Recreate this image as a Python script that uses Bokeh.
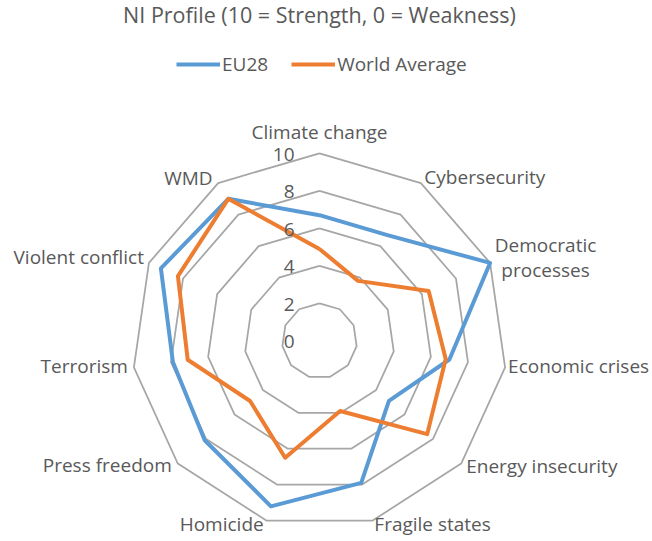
import math
from bokeh.plotting import figure
from bokeh.models import Range1d, Legend, LegendItem, Label
from bokeh.core.properties import value
from bokeh.embed import file_html
from bokeh.resources import INLINE

# ---------------- data ----------------
categories = ["Climate change", "Cybersecurity", "Democratic\nprocesses", "Economic crises",
              "Energy insecurity", "Fragile states", "Homicide", "Press freedom",
              "Terrorism", "Violent conflict", "WMD"]
eu28 = [6.7, 6.7, 10.0, 7.0, 4.9, 7.9, 9.2, 8.1, 7.9, 9.3, 9.0]
world_average = [4.9, 3.8, 6.4, 6.8, 7.6, 3.9, 6.5, 4.9, 7.1, 8.3, 9.0]
ring_values = [2, 4, 6, 8, 10]
tick_values = [0, 2, 4, 6, 8, 10]
tick_labels = ["0", "2", "4", "6", "8", "10"]
series_names = ["EU28", "World Average"]
title_text = "NI Profile (10 = Strength, 0 = Weakness)"

# ---------------- layout / style ----------------
W, H = 652, 541
PX = 18.75             # pixels per unit
CX, CY = 319.0, 340.3  # radar centre inside figure (px from top-left)
FONT = "Open Sans"
TXT = "#595959"
GRID = "#A6A6A6"
BLUE = "#5B9BD5"
ORANGE = "#ED7D31"

# label placement relative to outer vertex: (dx px, dy px down, align)
label_layout = [(0, -21, "center"), (3.5, -6, "left"), (55.5, -5.5, "center"),
                (3, -1.5, "left"), (5, 2.5, "left"), (2, 3.5, "left"),
                (-3, 3.5, "right"), (-6, 1.5, "right"), (-6, -1.5, "right"),
                (-5, -5.5, "right"), (-5.5, -5.5, "right")]

n = len(categories)
angles = [2 * math.pi * i / n for i in range(n)]


def to_xy(vals):
    xs = [v * math.sin(a) for v, a in zip(vals, angles)]
    ys = [v * math.cos(a) for v, a in zip(vals, angles)]
    return xs + xs[:1], ys + ys[:1]


p = figure(width=W, height=H, output_backend="svg", toolbar_location=None,
           x_range=Range1d(-CX / PX, (W - CX) / PX),
           y_range=Range1d(-(H - CY) / PX, CY / PX),
           x_axis_location=None, y_axis_location=None,
           min_border=0, outline_line_color=None, background_fill_color="white")
p.xgrid.visible = False
p.ygrid.visible = False

# rings
ring_xs, ring_ys = [], []
for r in ring_values:
    xs, ys = to_xy([r] * n)
    ring_xs.append(xs)
    ring_ys.append(ys)
p.multi_line(ring_xs, ring_ys, line_color=GRID, line_width=1.75)

# series
bx, by = to_xy(eu28)
ox, oy = to_xy(world_average)
r_eu = p.line(bx, by, line_color=BLUE, line_width=4, line_join="round")
r_wa = p.line(ox, oy, line_color=ORANGE, line_width=4, line_join="round")

# tick labels on the top spoke
p.text(x=[0] * len(tick_values), y=tick_values, text=tick_labels,
       x_offset=-25, y_offset=1, text_align="right", text_baseline="middle",
       text_font=value(FONT), text_font_size="19px", text_color=TXT)

# category labels
for i, cat in enumerate(categories):
    dx, dy, al = label_layout[i]
    vx = ring_values[-1] * math.sin(angles[i])
    vy = ring_values[-1] * math.cos(angles[i])
    p.text(x=[vx], y=[vy], text=[cat], x_offset=dx, y_offset=dy,
           text_align=al, text_baseline="middle", text_line_height=0.95,
           text_font=value(FONT), text_font_size="19px", text_color=TXT)

# title
p.add_layout(Label(x=319, y=H - 14, x_units="screen", y_units="screen",
                   text=title_text, text_align="center", text_baseline="middle",
                   text_font=FONT, text_font_size="21.5px", text_color=TXT))

# legend
legend = Legend(items=[LegendItem(label=series_names[0], renderers=[r_eu]),
                       LegendItem(label=series_names[1], renderers=[r_wa])],
                orientation="horizontal", location=(176, H - 77),
                glyph_width=44, glyph_height=20, label_height=20,
                label_standoff=2, spacing=23, padding=0, margin=0,
                border_line_color=None, background_fill_alpha=0,
                label_text_font=FONT, label_text_font_size="19px",
                label_text_color=TXT)
p.add_layout(legend)

open("out.html", "w").write(file_html(p, INLINE))
